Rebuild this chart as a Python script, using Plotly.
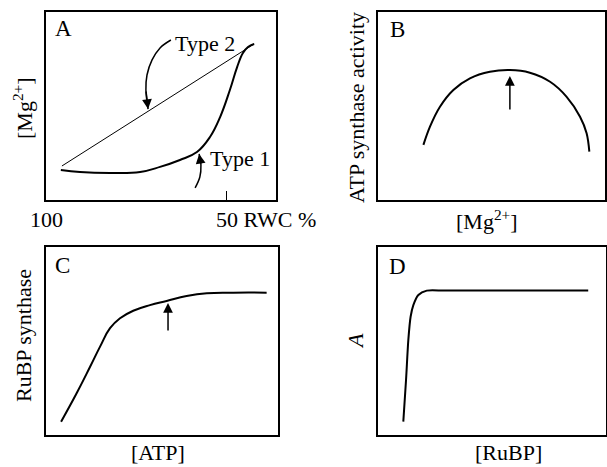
import plotly.graph_objects as go

W, H = 607, 467
FONT = "Liberation Serif, Times New Roman, serif"

# ---------------- data ----------------
# Panel A : [Mg2+] vs RWC %
a_type2_rwc = [95.6, 42.5]
a_type2_mg = [18.1, 83.0]
a_type1_rwc = [95.9, 90.6, 82.3, 74.0, 68.5, 63.0, 58.3, 54.7, 51.9, 49.2, 47.2, 45.6, 44.2, 42.5]
a_type1_mg = [16.0, 14.9, 14.4, 14.9, 17.6, 21.3, 25.5, 33.5, 44.1, 58.5, 70.7, 78.2, 81.4, 83.0]
a_tick_vals = [100, 50]
a_tick_text = ["100", "50 RWC %"]
a_arrow2_rwc = [65.5, 68.5, 70.7, 72.1, 72.4, 71.8]
a_arrow2_mg = [85.1, 80.9, 74.5, 66.5, 58.5, 48.4]
a_arrow1_rwc = [58.8, 57.5, 57.2, 57.7]
a_arrow1_mg = [6.4, 12.2, 18.6, 24.5]
a_labels = ["Type 2", "Type 1"]
a_label_rwc = [64.9, 55.2]
a_label_mg = [83.5, 22.3]

# Panel B : ATP synthase activity vs [Mg2+]
b_mg = [20.0, 22.9, 27.3, 33.2, 40.5, 49.3, 58.1, 66.9, 75.8, 83.1, 89.0, 91.9, 93.1]
b_activity = [29.3, 39.0, 49.6, 58.5, 64.7, 68.2, 69.1, 67.7, 62.9, 54.9, 44.3, 35.5, 25.7]
b_arrow_x = [58.1, 58.1]
b_arrow_y = [47.3, 66.0]

# Panel C : RuBP synthase vs [ATP]
c_atp = [6.5, 13.2, 19.0, 23.3, 27.6, 31.9, 37.6, 44.8, 52.0, 60.6, 69.3, 80.7, 95.1]
c_rubp = [7.1, 22.2, 36.3, 47.0, 56.8, 62.1, 66.1, 69.1, 71.3, 73.9, 75.4, 75.7, 75.7]
c_arrow_x = [52.6, 52.6]
c_arrow_y = [54.8, 70.2]

# Panel D : A vs [RuBP]
d_rubp = [11.1, 12.3, 13.3, 14.3, 15.5, 17.7, 21.4, 30.0, 92.2]
d_a = [7.1, 29.3, 50.5, 62.9, 69.1, 74.5, 76.8, 76.8, 76.8]

# ---------------- layout helpers ----------------
def px_x(p):
    return p / W

def px_y(p):
    return 1 - p / H

boxes = {
    "A": (46, 276, 12, 200),
    "B": (378, 605, 12, 200),
    "C": (46, 278, 247, 435),
    "D": (378, 606, 247, 435),
}

fig = go.Figure()

fig.add_trace(go.Scatter(x=a_type2_rwc, y=a_type2_mg, mode="lines",
                         line=dict(color="black", width=1), xaxis="x", yaxis="y"))
fig.add_trace(go.Scatter(x=a_type1_rwc, y=a_type1_mg, mode="lines",
                         line=dict(color="black", width=2, shape="spline", smoothing=1.2),
                         xaxis="x", yaxis="y"))
fig.add_trace(go.Scatter(x=a_arrow2_rwc, y=a_arrow2_mg, mode="lines",
                         line=dict(color="black", width=1.5, shape="spline"), xaxis="x", yaxis="y"))
fig.add_trace(go.Scatter(x=a_arrow1_rwc, y=a_arrow1_mg, mode="lines",
                         line=dict(color="black", width=1.5, shape="spline"), xaxis="x", yaxis="y"))
fig.add_trace(go.Scatter(x=b_mg, y=b_activity, mode="lines",
                         line=dict(color="black", width=2, shape="spline"), xaxis="x2", yaxis="y2"))
fig.add_trace(go.Scatter(x=c_atp, y=c_rubp, mode="lines",
                         line=dict(color="black", width=2, shape="spline", smoothing=1.3),
                         xaxis="x3", yaxis="y3"))
fig.add_trace(go.Scatter(x=d_rubp, y=d_a, mode="lines",
                         line=dict(color="black", width=2, shape="spline", smoothing=0.8),
                         xaxis="x4", yaxis="y4"))

def axis(dom, rng, anchor, **kw):
    d = dict(domain=dom, range=rng, anchor=anchor, showgrid=False, zeroline=False,
             showticklabels=False, ticks="", showline=True, mirror=True,
             linecolor="black", linewidth=1.6, fixedrange=True)
    d.update(kw)
    return d

def xdom(k):
    b = boxes[k]
    return [px_x(b[0]), px_x(b[1])]

def ydom(k):
    b = boxes[k]
    return [px_y(b[3]), px_y(b[2])]

layout = dict(
    width=W, height=H, margin=dict(l=0, r=0, t=0, b=0),
    paper_bgcolor="white", plot_bgcolor="white", showlegend=False,
    font=dict(family=FONT, size=22, color="black"),
    xaxis=axis(xdom("A"), [100, 36.46], "y", ticks="inside", tickvals=[50], ticklen=9,
               tickwidth=1.2, tickcolor="black"),
    yaxis=axis(ydom("A"), [0, 100], "x"),
    xaxis2=axis(xdom("B"), [0, 100], "y2"),
    yaxis2=axis(ydom("B"), [0, 100], "x2"),
    xaxis3=axis(xdom("C"), [0, 100], "y3"),
    yaxis3=axis(ydom("C"), [0, 100], "x3"),
    xaxis4=axis(xdom("D"), [0, 100], "y4"),
    yaxis4=axis(ydom("D"), [0, 100], "x4"),
)
fig.update_layout(**layout)

ann = []
# panel letters
for letter, (cx, cy) in {"A": (63, 28.5), "B": (397, 29.5), "C": (62.5, 265.5), "D": (397.5, 266.5)}.items():
    ann.append(dict(text=letter, x=px_x(cx), y=px_y(cy), xref="paper", yref="paper",
                    showarrow=False, xanchor="center", yanchor="middle", font=dict(size=23)))
# tick labels of panel A
ann.append(dict(text=a_tick_text[0], x=a_tick_vals[0], xref="x", y=px_y(219), yref="paper",
                showarrow=False, xanchor="center", yanchor="middle"))
ann.append(dict(text=a_tick_text[1], x=a_tick_vals[1], xref="x", y=px_y(219), yref="paper",
                showarrow=False, xanchor="left", yanchor="middle", xshift=-13))
# type labels
for t, xx, yy in zip(a_labels, a_label_rwc, a_label_mg):
    ann.append(dict(text=t, x=xx, y=yy, xref="x", yref="y", showarrow=False,
                    xanchor="left", yanchor="middle"))
# arrowheads of curved arrows
for xs, ys in [(a_arrow2_rwc, a_arrow2_mg), (a_arrow1_rwc, a_arrow1_mg)]:
    ann.append(dict(x=xs[-1], y=ys[-1], ax=xs[-2], ay=ys[-2], xref="x", yref="y",
                    axref="x", ayref="y", text="", showarrow=True, arrowhead=2,
                    arrowsize=1.3, arrowwidth=1.5, arrowcolor="black", standoff=0))
# straight arrows
for xs, ys, xr, yr in [(b_arrow_x, b_arrow_y, "x2", "y2"), (c_arrow_x, c_arrow_y, "x3", "y3")]:
    ann.append(dict(x=xs[1], y=ys[1], ax=xs[0], ay=ys[0], xref=xr, yref=yr,
                    axref=xr, ayref=yr, text="", showarrow=True, arrowhead=2,
                    arrowsize=1.3, arrowwidth=1.5, arrowcolor="black", standoff=0))
# axis titles (rotated / top)
titles = [
    ("[Mg<sup>2+</sup>]", 23, 108, -90),
    ("ATP synthase activity", 357, 108, -90),
    ("[Mg<sup>2+</sup>]", 487, 220, 0),
    ("RuBP synthase", 23, 336, -90),
    ("<i>A</i>", 355, 341, -90),
]
for t, cx, cy, ang in titles:
    ann.append(dict(text=t, x=px_x(cx), y=px_y(cy), xref="paper", yref="paper",
                    showarrow=False, xanchor="center", yanchor="middle", textangle=ang))
# bottom x titles, anchored to the page bottom
for t, cx in [("[ATP]", 158), ("[RuBP]", 508)]:
    ann.append(dict(text=t, x=px_x(cx), y=0, xref="paper", yref="paper",
                    showarrow=False, xanchor="center", yanchor="bottom"))

fig.update_layout(annotations=ann)
fig.write_html("out.html", config={"displayModeBar": False},
               post_script="document.body.style.margin='0';document.body.style.padding='0';")
